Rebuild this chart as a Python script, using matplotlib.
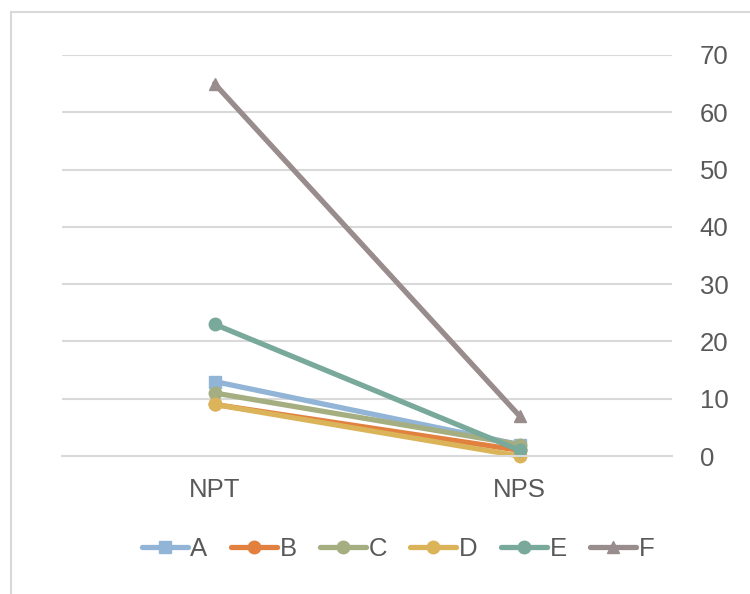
import matplotlib.pyplot as plt
from matplotlib.patches import Rectangle

plt.rcParams['font.family'] = ['Liberation Sans', 'DejaVu Sans']

categories = ['NPT', 'NPS']
series_names = ['A', 'B', 'C', 'D', 'E', 'F']
a_vals = [13, 2]
b_vals = [9, 1]
c_vals = [11, 2]
d_vals = [9, 0]
e_vals = [23, 1]
f_vals = [65, 7]
y_ticks = [0, 10, 20, 30, 40, 50, 60, 70]

colors = ['#92B4D6', '#E1803F', '#A4AE80', '#DBB459', '#78A99A', '#988C8C']
markers = ['s', 'o', 'o', 'o', 'o', '^']
values = [a_vals, b_vals, c_vals, d_vals, e_vals, f_vals]

fig = plt.figure(figsize=(7.5, 5.94), dpi=100)
# light frame around the chart (right and bottom edges run off the canvas)
fig.patches.append(Rectangle((11 / 750, -0.1), 1.2, 1.1 - 12 / 594, transform=fig.transFigure,
                             fill=False, edgecolor='#D9D9D9', linewidth=1.5, zorder=0))

ax = fig.add_axes([62 / 750, 1 - 456 / 594, 610 / 750, 401 / 594])
x = list(range(len(categories)))
for name, vals, c, m in zip(series_names, values, colors, markers):
    ax.plot(x, vals, color=c, marker=m, markersize=9, linewidth=3.8,
            label=name, solid_capstyle='round', clip_on=False)

ax.set_xlim(-0.5, 1.5)
ax.set_ylim(0, 70)
ax.set_yticks(y_ticks)
ax.set_xticks(x)
ax.set_xticklabels(categories)
ax.yaxis.tick_right()
ax.tick_params(axis='both', length=0, labelsize=18.5, labelcolor='#595959')
ax.tick_params(axis='y', pad=20)
ax.tick_params(axis='x', pad=16)
ax.grid(axis='y', color='#D9D9D9', linewidth=1.5)
ax.set_axisbelow(True)
for s in ['top', 'left', 'right']:
    ax.spines[s].set_visible(False)
ax.spines['bottom'].set_color('#D9D9D9')
ax.spines['bottom'].set_linewidth(1.5)

fig.legend(loc='center', bbox_to_anchor=(398 / 750, 1 - 549 / 594), ncol=6,
           frameon=False, fontsize=18.5, labelcolor='#595959',
           handlelength=1.8, handletextpad=0.1, columnspacing=0.9)

fig.savefig('out.png', dpi=100)
